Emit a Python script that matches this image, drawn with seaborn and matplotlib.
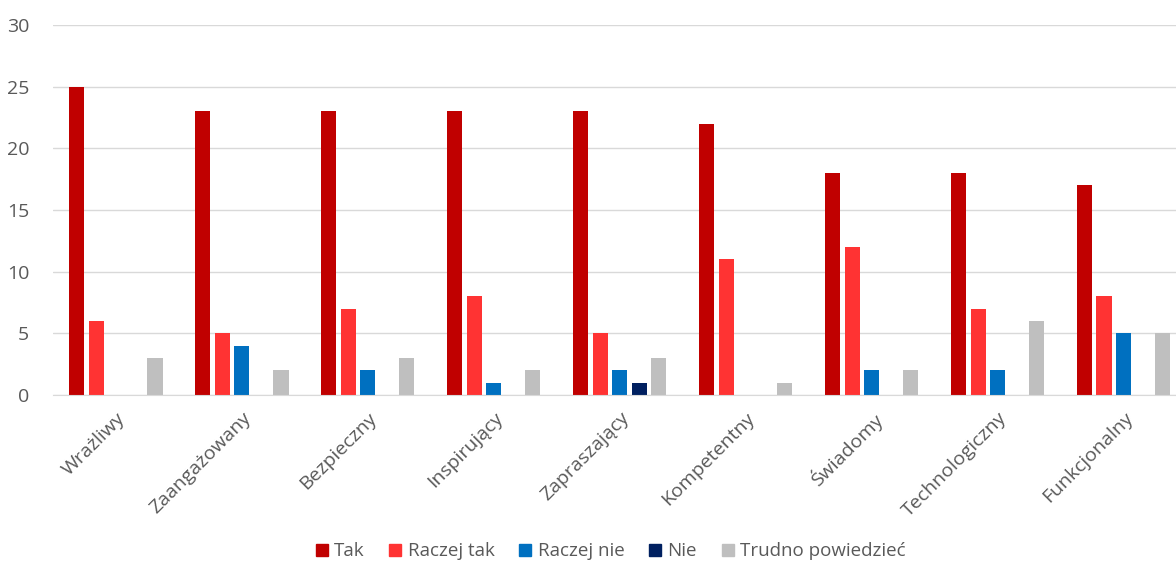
import pandas as pd
import matplotlib.pyplot as plt
import seaborn as sns
from matplotlib.lines import Line2D

# values
categories = ["Wrażliwy", "Zaangażowany", "Bezpieczny", "Inspirujący", "Zapraszający",
              "Kompetentny", "Świadomy", "Technologiczny", "Funkcjonalny"]
series = ["Tak", "Raczej tak", "Raczej nie", "Nie", "Trudno powiedzieć"]
tak = [25, 23, 23, 23, 23, 22, 18, 18, 17]
raczej_tak = [6, 5, 7, 8, 5, 11, 12, 7, 8]
raczej_nie = [0, 4, 2, 1, 2, 0, 2, 2, 5]
nie = [0, 0, 0, 0, 1, 0, 0, 0, 0]
trudno = [3, 2, 3, 2, 3, 1, 2, 6, 5]
colors = ["#C00000", "#FF3333", "#0070C0", "#002060", "#BFBFBF"]

df = pd.DataFrame({
    "Kategoria": categories,
    "Tak": tak,
    "Raczej tak": raczej_tak,
    "Raczej nie": raczej_nie,
    "Nie": nie,
    "Trudno powiedzieć": trudno,
})
long_df = df.melt(id_vars="Kategoria", var_name="Odpowiedź", value_name="Liczba")

sns.set_style("white")
plt.rcParams["font.family"] = ["Open Sans", "DejaVu Sans"]

fig = plt.figure(figsize=(11.76, 5.63), dpi=100)
ax = fig.add_axes([0.045, 0.2984, 0.964, 0.6572])

sns.barplot(
    data=long_df,
    x="Kategoria",
    y="Liczba",
    hue="Odpowiedź",
    hue_order=series,
    order=categories,
    palette=dict(zip(series, colors)),
    width=0.775,
    gap=0.22,
    saturation=1,
    linewidth=0,
    legend=False,
    ax=ax,
)

ax.set_xlim(-0.5, len(categories) - 0.5)
ax.set_ylim(0, 30)
ax.set_yticks(range(0, 31, 5))
ax.yaxis.grid(True, color="#D9D9D9", linewidth=1)
ax.set_axisbelow(True)
for side in ["top", "right", "left"]:
    ax.spines[side].set_visible(False)
ax.spines["bottom"].set_color("#D9D9D9")
ax.set_xlabel("")
ax.set_ylabel("")
ax.tick_params(axis="y", length=0, pad=17, labelsize=14, labelcolor="#595959")
ax.tick_params(axis="x", length=0, pad=10, labelsize=14, labelcolor="#595959")
plt.setp(ax.get_xticklabels(), rotation=45, ha="right", rotation_mode="anchor")

handles = [Line2D([0], [0], marker="s", linestyle="", markersize=8,
                  markerfacecolor=c, markeredgecolor=c) for c in colors]
fig.legend(handles, series, loc="center", bbox_to_anchor=(0.519, 0.021), ncol=5,
           frameon=False, fontsize=13.5, handlelength=0.7, handletextpad=0.3,
           columnspacing=1.3, labelcolor="#595959")

plt.savefig("out.png", dpi=100)
plt.close()
